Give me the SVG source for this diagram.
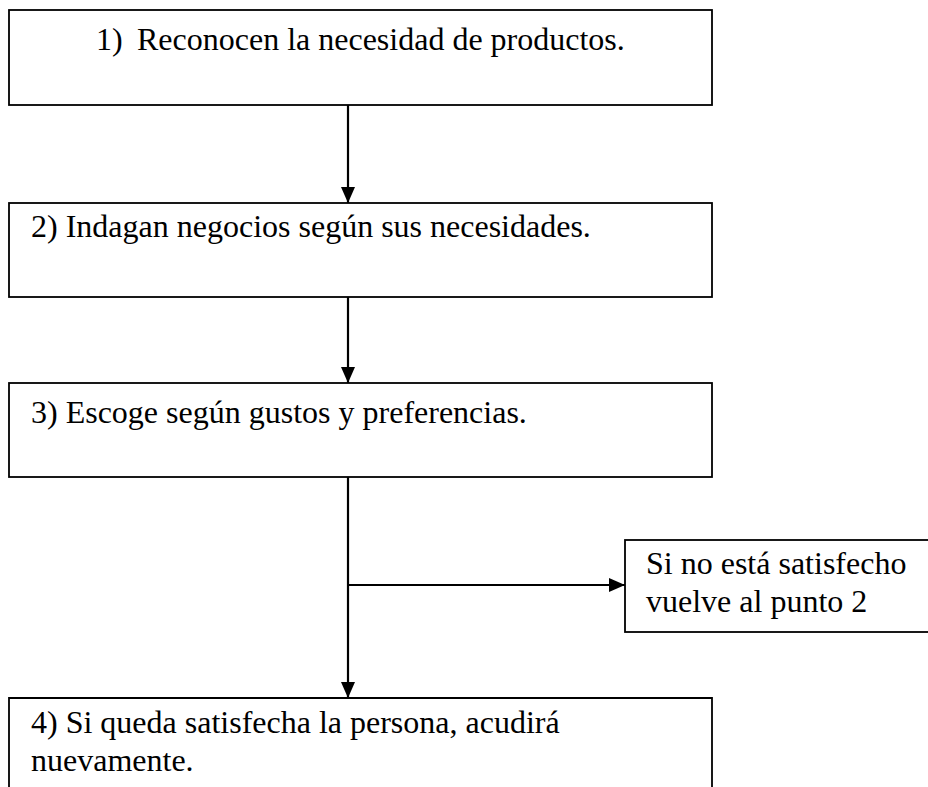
<svg xmlns="http://www.w3.org/2000/svg" width="928" height="787" viewBox="0 0 928 787">
<defs>
<style>
.box{fill:#fff;stroke:#000;stroke-width:1.8}
.t{font-family:"Liberation Serif","Times New Roman",serif;font-size:32px;fill:#000}
.c{fill:none;stroke:#000;stroke-width:2.2}
</style>
<marker id="ah" viewBox="0 0 16 14" refX="16" refY="7" markerWidth="16" markerHeight="14" markerUnits="userSpaceOnUse" orient="auto">
<path d="M0,0 L16,7 L0,14 z" fill="#000"/>
</marker>
</defs>
<rect width="928" height="787" fill="#fff"/>
<g id="connectors">
<line class="c" x1="348" y1="105" x2="348" y2="203" marker-end="url(#ah)"/>
<line class="c" x1="348" y1="297" x2="348" y2="383" marker-end="url(#ah)"/>
<line class="c" x1="348" y1="477" x2="348" y2="698" marker-end="url(#ah)"/>
<line class="c" x1="348" y1="585" x2="625" y2="585" marker-end="url(#ah)"/>
</g>
<g id="n1">
<rect class="box" x="9" y="10" width="703" height="95"/>
<text class="t" y="50"><tspan x="96">1)</tspan><tspan x="137">Reconocen la necesidad de productos.</tspan></text>
</g>
<g id="n2">
<rect class="box" x="9" y="203" width="703" height="94"/>
<text class="t" x="31" y="237">2) Indagan negocios según sus necesidades.</text>
</g>
<g id="n3">
<rect class="box" x="9" y="383" width="703" height="94"/>
<text class="t" x="31" y="423">3) Escoge según gustos y preferencias.</text>
</g>
<g id="n5">
<rect class="box" x="625" y="540" width="310" height="92"/>
<text class="t" x="646" y="574">Si no está satisfecho</text>
<text class="t" x="646" y="612">vuelve al punto 2</text>
</g>
<g id="n4">
<path class="box" d="M9,792 L9,698 L712,698 L712,792"/>
<text class="t" x="31" y="733">4) Si queda satisfecha la persona, acudirá</text>
<text class="t" x="31" y="771">nuevamente.</text>
</g>
</svg>
